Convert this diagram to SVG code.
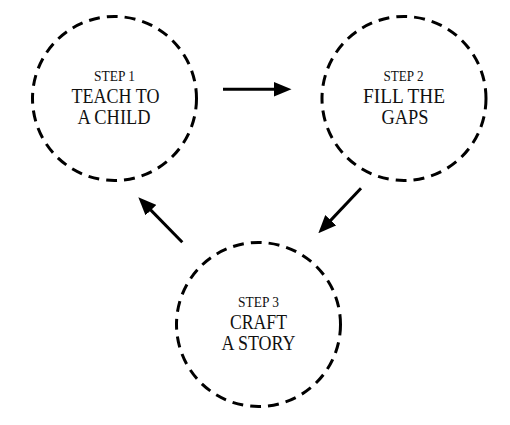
<svg xmlns="http://www.w3.org/2000/svg" width="510" height="425" viewBox="0 0 510 425">
<style>
.ring{fill:none;stroke:#000;stroke-width:3;stroke-dasharray:11 7}
.step{font-family:"Liberation Serif","DejaVu Serif",serif;font-size:14px;fill:#111;text-anchor:middle}
.big{font-family:"Liberation Serif","DejaVu Serif",serif;font-size:21px;fill:#111;text-anchor:middle}
.conn{stroke:#000;stroke-width:3;fill:none;marker-end:url(#ah)}
</style>
<defs>
<marker id="ah" markerUnits="userSpaceOnUse" markerWidth="18" markerHeight="15" refX="6" refY="7.5" orient="auto">
<path d="M0,0 L18,7.5 L0,15 z" fill="#000"/>
</marker>
</defs>
<rect width="510" height="425" fill="#fff"/>
<g id="step1">
<circle class="ring" cx="114.5" cy="98.5" r="82"/>
<text class="step" x="114.5" y="81" textLength="41" lengthAdjust="spacingAndGlyphs">STEP 1</text>
<text class="big" x="115.5" y="103" textLength="88" lengthAdjust="spacingAndGlyphs">TEACH TO</text>
<text class="big" x="114" y="123.5" textLength="73" lengthAdjust="spacingAndGlyphs">A CHILD</text>
</g>
<g id="step2">
<circle class="ring" cx="404" cy="98.5" r="82"/>
<text class="step" x="403.5" y="81" textLength="40" lengthAdjust="spacingAndGlyphs">STEP 2</text>
<text class="big" x="404" y="103" textLength="82" lengthAdjust="spacingAndGlyphs">FILL THE</text>
<text class="big" x="405" y="123.5" textLength="47" lengthAdjust="spacingAndGlyphs">GAPS</text>
</g>
<g id="step3">
<circle class="ring" cx="258.5" cy="324.5" r="82"/>
<text class="step" x="258.5" y="306.5" textLength="41" lengthAdjust="spacingAndGlyphs">STEP 3</text>
<text class="big" x="258.5" y="328.5" textLength="57" lengthAdjust="spacingAndGlyphs">CRAFT</text>
<text class="big" x="258.5" y="349.5" textLength="74" lengthAdjust="spacingAndGlyphs">A STORY</text>
</g>
<g id="connectors">
<line class="conn" x1="223" y1="89.3" x2="279.5" y2="89.3"/>
<line class="conn" x1="361" y1="188.3" x2="326.6" y2="224.6"/>
<line class="conn" x1="182.3" y1="242.3" x2="146.7" y2="205.9"/>
</g>
</svg>
